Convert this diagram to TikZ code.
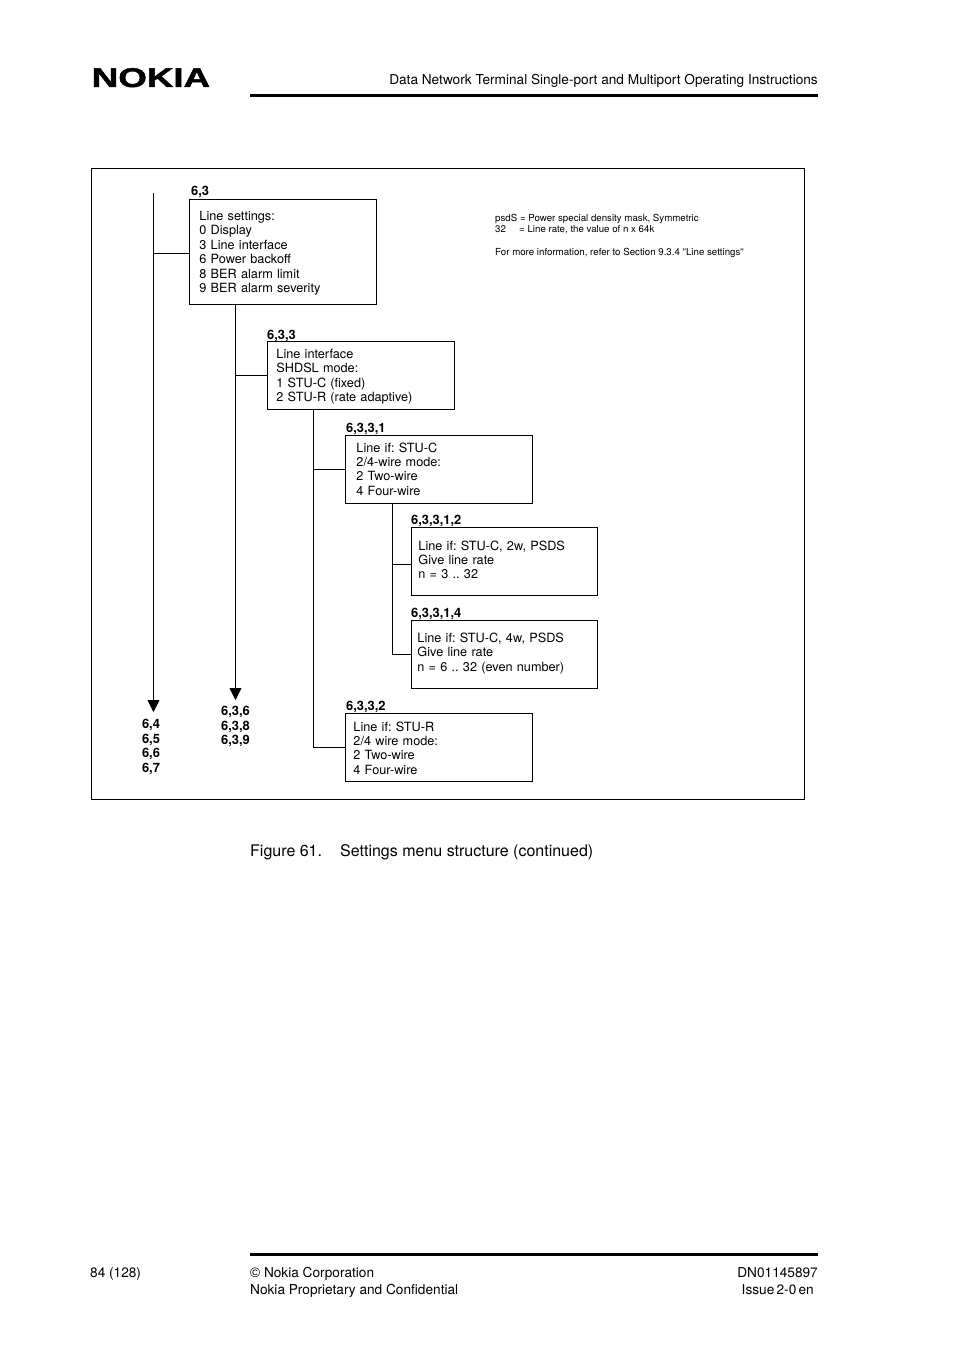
\documentclass[tikz,border=0pt]{standalone}
\usepackage{xcolor}
\usepackage{fontspec}
\setmainfont{TeX Gyre Heros}
\newfontfamily\logofont[BoldFeatures={FakeBold=1.5}]{Liberation Sans}
\usetikzlibrary{arrows.meta}
\frenchspacing
\tikzset{
  menubox/.style n args={3}{draw, line width=0.9pt, anchor=north west, align=left, inner ysep=0pt,
    inner xsep=#1, text width=#2-2*#1-1pt, minimum height=#3-1pt, font=\fontsize{12.7}{14.4}\selectfont},
  numlabel/.style={inner sep=0pt, font=\bfseries\fontsize{12.9}{14.5}\selectfont},
  pagetext/.style={inner sep=0pt, anchor=base west, font=\fontsize{13.65}{16}\selectfont},
  rule/.style={line width=3pt},
  conn/.style={line width=0.9pt},
  downarrow/.style={line width=0.9pt, -{Triangle[width=12pt,length=12pt]}}
}
\begin{document}
\begin{tikzpicture}[x=1pt,y=-1pt]
\useasboundingbox (0,0) rectangle (954,1351);
% page head
\node[inner sep=0pt, anchor=base west, xscale=1.36] (logo) at (91.5,87) {\logofont\bfseries\fontsize{27}{28}\selectfont NOKIA};
\node[pagetext, anchor=base east] (headtext) at (818,85) {Data Network Terminal Single-port and Multiport Operating Instructions};
\draw[rule] (250,96) -- (818,96);
% frame
\draw[conn] (91,168) rectangle (804.5,799.7);
% boxes
\node[menubox={10}{188}{106}, text depth=72.2pt] (box63) at (189,199) {Line settings:\\0 Display\\3 Line interface\\6 Power backoff\\8 BER alarm limit\\9 BER alarm severity};
\node[menubox={9}{188}{69}, text depth=43.8pt] (box633) at (267,341) {Line interface\\SHDSL mode:\\1 STU-C (fixed)\\2 STU-R (rate adaptive)};
\node[menubox={11}{188}{69}, text depth=44.2pt] (box6331) at (345,435) {Line if: STU-C\\2/4-wire mode:\\2 Two-wire\\4 Four-wire};
\node[menubox={7}{187}{69}, text depth=32.3pt] (box63312) at (411,527) {Line if: STU-C, 2w, PSDS\\Give line rate\\n = 3 .. 32};
\node[menubox={6}{187}{69}, text depth=33.5pt] (box63314) at (411,620) {Line if: STU-C, 4w, PSDS\\Give line rate\\n = 6 .. 32 (even number)};
\node[menubox={8}{188}{69}, text depth=42.2pt] (box6332) at (345,713) {Line if: STU-R\\2/4 wire mode:\\2 Two-wire\\4 Four-wire};
% box numbers
\node[numlabel, anchor=base west] (num63) at (191,196) {6,3};
\node[numlabel, anchor=base west] (num633) at (267,339) {6,3,3};
\node[numlabel, anchor=base west] (num6331) at (346,432) {6,3,3,1};
\node[numlabel, anchor=base west] (num63312) at (411,524) {6,3,3,1,2};
\node[numlabel, anchor=base west] (num63314) at (411,617) {6,3,3,1,4};
\node[numlabel, anchor=base west] (num6332) at (346,710) {6,3,3,2};
\node[numlabel, align=center] (numA) at (151,747) {6,4\\6,5\\6,6\\6,7};
\node[numlabel, align=center] (numB) at (235.5,726.5) {6,3,6\\6,3,8\\6,3,9};
% connectors
\coordinate (trunkA) at (153.5,193);
\coordinate (endA) at (153.5,712);
\coordinate (endB) at (235.5,700);
\coordinate (trunkC) at (313.5,410);
\coordinate (trunkD) at (392,504);
\coordinate (tap63) at ([yshift=-1pt]box63.west);
\coordinate (tap63312) at ([yshift=-2.5pt]box63312.west);
\draw[downarrow] (trunkA) -- (endA);
\draw[conn] (trunkA |- tap63) -- (tap63);
\draw[downarrow] (endB |- box63.south) -- (endB);
\draw[conn] (endB |- box633.west) -- (box633.west);
\draw[conn] (trunkC |- box633.south) -- (trunkC |- box6332.west) -- (box6332.west);
\draw[conn] (trunkC |- box6331.west) -- (box6331.west);
\draw[conn] (trunkD |- box6331.south) -- (trunkD |- box63314.west) -- (box63314.west);
\draw[conn] (trunkD |- tap63312) -- (tap63312);
% notes
\node[inner sep=0pt, anchor=north west, align=left, font=\fontsize{9.7}{11.2}\selectfont] (notes) at (495,214) {psdS = Power special density mask, Symmetric\\\makebox[24pt][l]{32}= Line rate, the value of n x 64k\\[11.2pt]For more information, refer to Section 9.3.4 {\logofont"}Line settings{\logofont"}};
% caption
\node[pagetext, font=\fontsize{16}{18}\selectfont] (figno) at (250,856) {Figure 61.};
\node[pagetext, font=\fontsize{16}{18}\selectfont] (figtitle) at (340,856) {Settings menu structure (continued)};
% page foot
\draw[rule] (250,1254) -- (818,1254);
\node[pagetext] (pageno) at (90,1277) {84 (128)};
\node[pagetext] (corp) at (250,1277) {{\logofont ©} Nokia Corporation};
\node[pagetext] (conf) at (250,1294) {Nokia Proprietary and Confidential};
\node[pagetext, anchor=base east] (docno) at (818,1277) {DN01145897};
\node[pagetext, anchor=base east] (issue) at (814,1294) {Issue\,2-0\,en};
\end{tikzpicture}
\end{document}
